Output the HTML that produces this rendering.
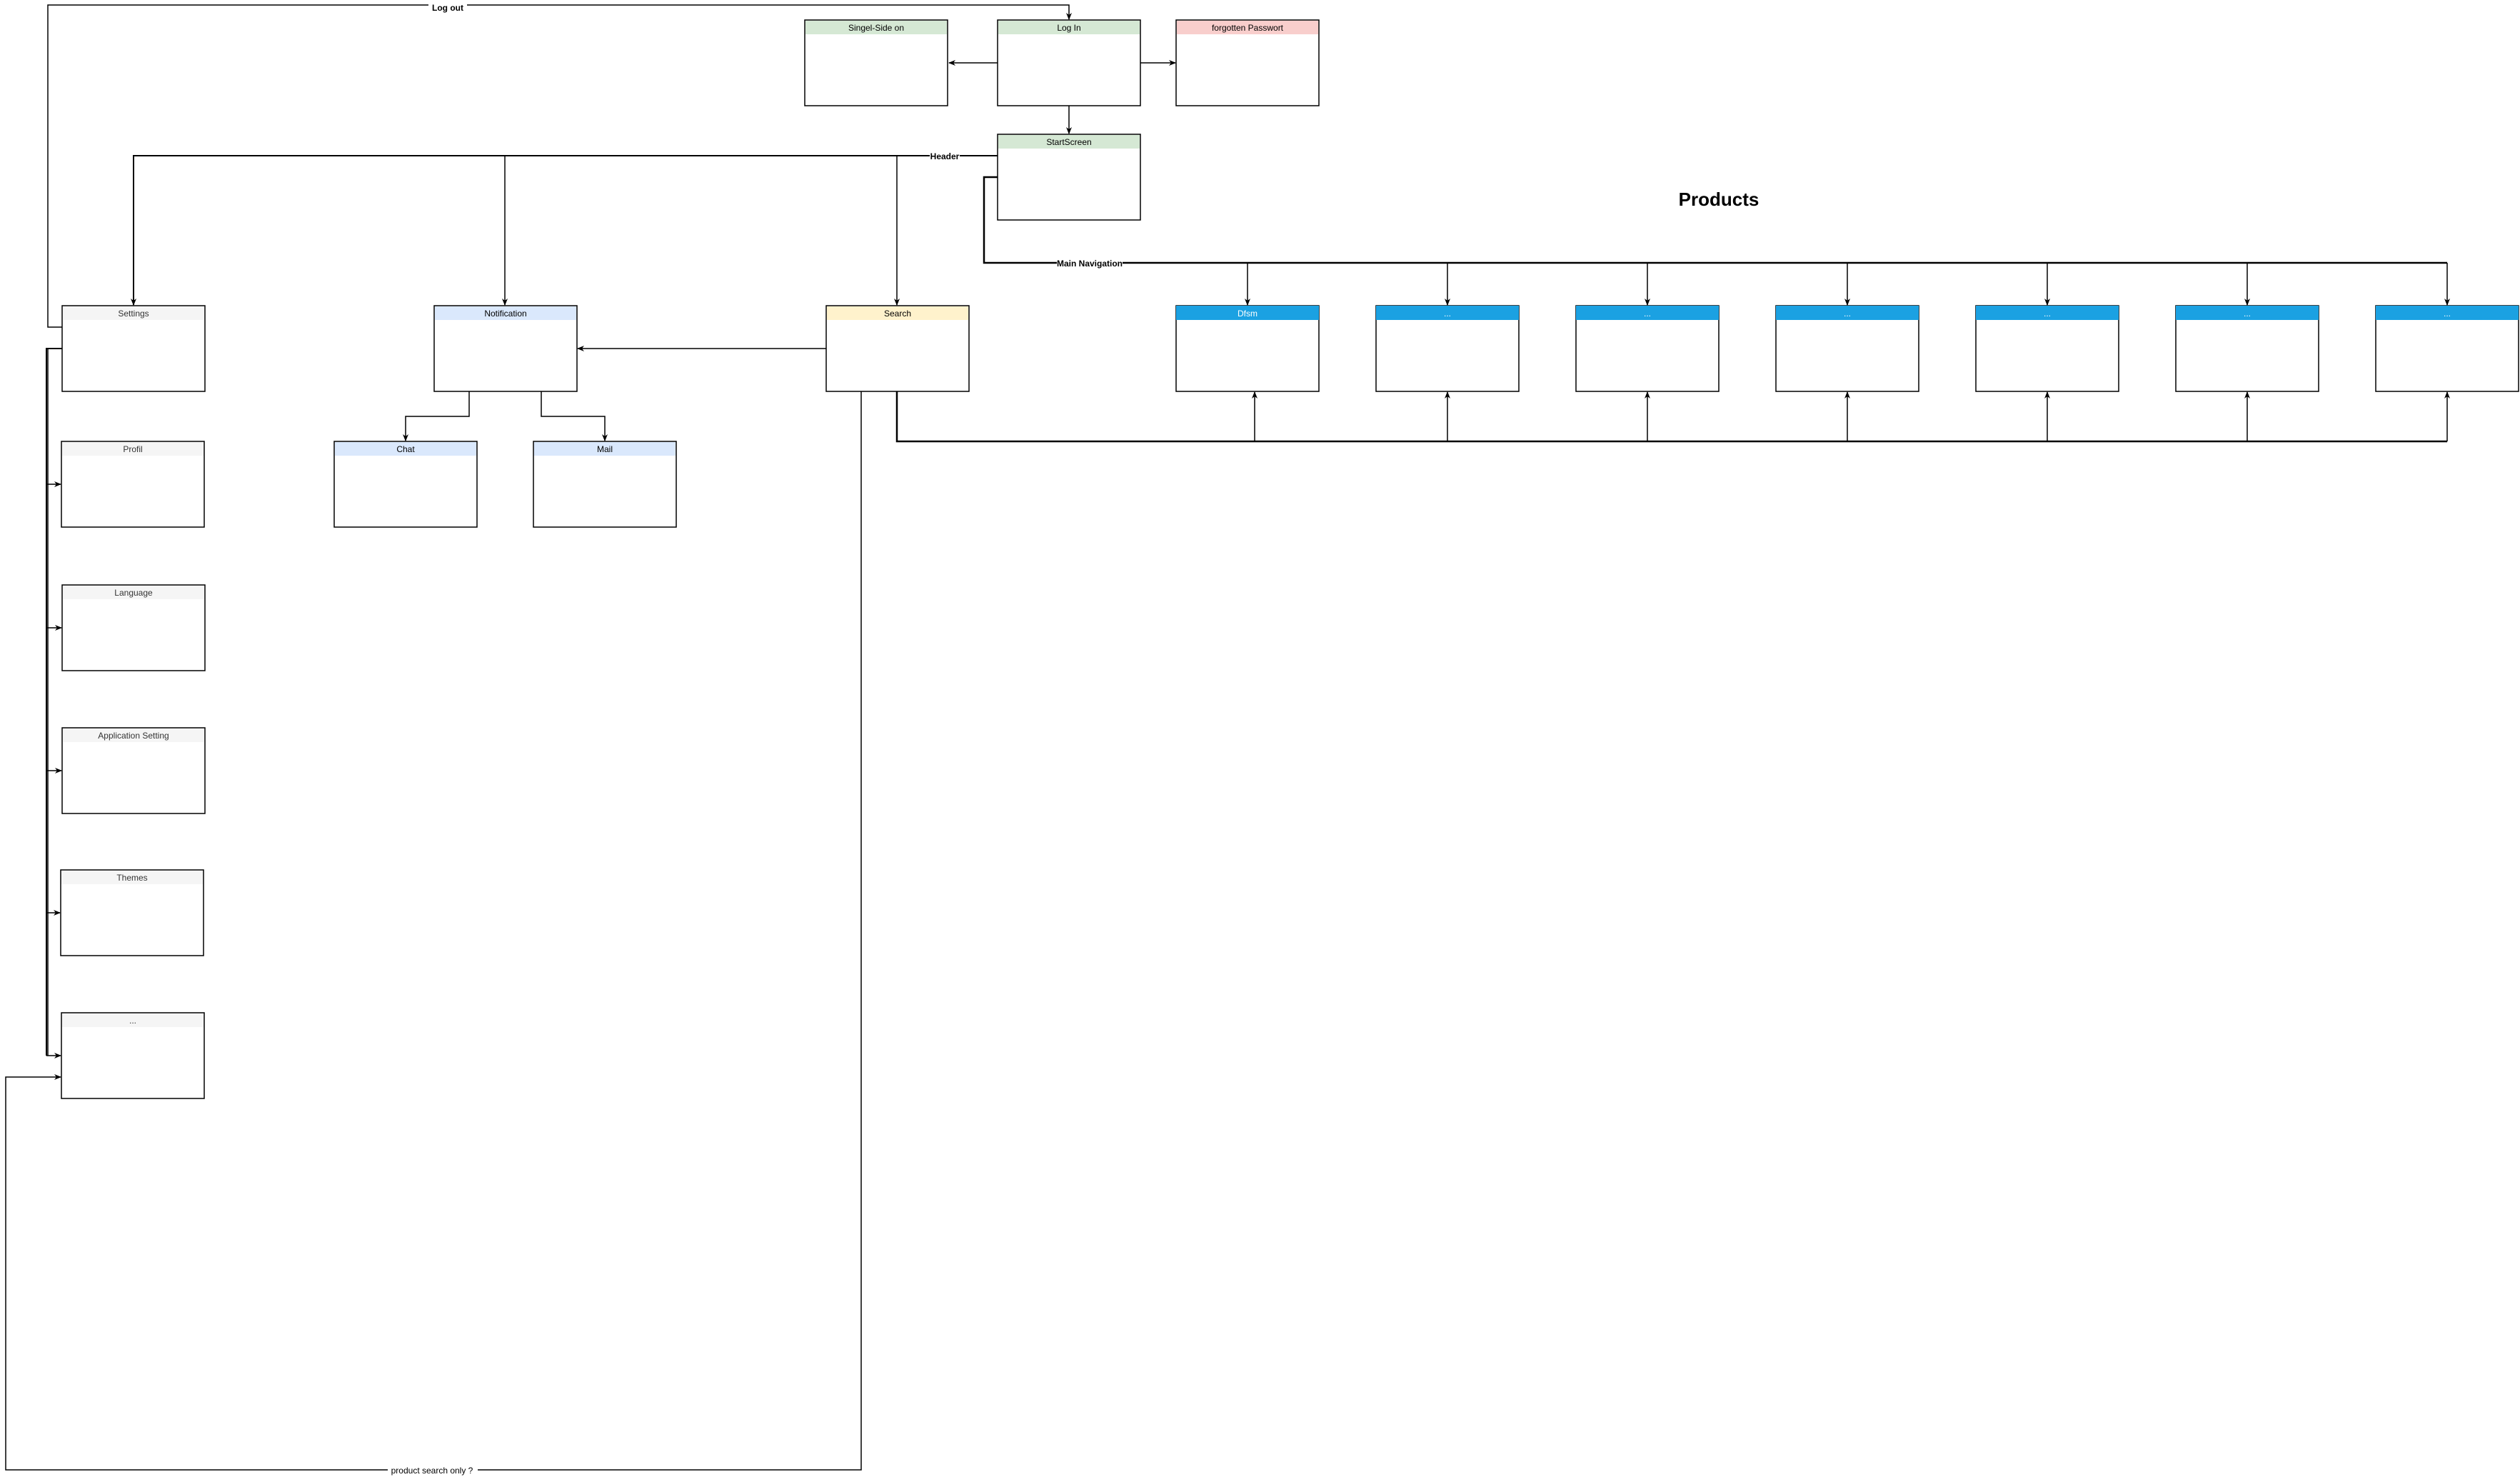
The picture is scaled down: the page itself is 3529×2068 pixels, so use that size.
<!DOCTYPE html>
<html><head><meta charset="utf-8"><style>
html,body{margin:0;padding:0;background:#fff;}
svg{display:block;}
text{font-family:"Liberation Sans",sans-serif;}
</style></head><body>
<svg width="3529" height="2068" viewBox="0 0 3529 2068" xmlns="http://www.w3.org/2000/svg">
<defs>
<marker id="a" markerWidth="10" markerHeight="10" refX="9" refY="5" orient="auto" markerUnits="userSpaceOnUse">
<path d="M0,1 L10,5 L0,9 L3,5 Z" fill="#000"/></marker>
</defs>
<g fill="none" stroke="#000" stroke-width="1.5">
<!-- Log out -->
<polyline points="87,458 67,458 67,7 1497,7 1497,27" marker-end="url(#a)"/>
<!-- Login arrows -->
<line x1="1397" y1="88" x2="1329" y2="88" marker-end="url(#a)"/>
<line x1="1597" y1="88" x2="1646" y2="88" marker-end="url(#a)"/>
<line x1="1497" y1="148" x2="1497" y2="187" marker-end="url(#a)"/>
<!-- Header -->
<polyline points="1397,218 187,218 187,427" stroke-width="2" marker-end="url(#a)"/>
<line x1="707" y1="218" x2="707" y2="427" marker-end="url(#a)"/>
<line x1="1256" y1="218" x2="1256" y2="427" marker-end="url(#a)"/>
<!-- Main nav -->
<polyline points="1397,248 1378,248 1378,368 3427,368" stroke-width="2.5"/>
<line x1="1747" y1="368" x2="1747" y2="427" marker-end="url(#a)"/>
<line x1="2027" y1="368" x2="2027" y2="427" marker-end="url(#a)"/>
<line x1="2307" y1="368" x2="2307" y2="427" marker-end="url(#a)"/>
<line x1="2587" y1="368" x2="2587" y2="427" marker-end="url(#a)"/>
<line x1="2867" y1="368" x2="2867" y2="427" marker-end="url(#a)"/>
<line x1="3147" y1="368" x2="3147" y2="427" marker-end="url(#a)"/>
<line x1="3427" y1="368" x2="3427" y2="427" marker-end="url(#a)"/>
<!-- Search bottom -->
<polyline points="1256,548 1256,618 3427,618" stroke-width="2.5"/>
<line x1="1757" y1="618" x2="1757" y2="549" marker-end="url(#a)"/>
<line x1="2027" y1="618" x2="2027" y2="549" marker-end="url(#a)"/>
<line x1="2307" y1="618" x2="2307" y2="549" marker-end="url(#a)"/>
<line x1="2587" y1="618" x2="2587" y2="549" marker-end="url(#a)"/>
<line x1="2867" y1="618" x2="2867" y2="549" marker-end="url(#a)"/>
<line x1="3147" y1="618" x2="3147" y2="549" marker-end="url(#a)"/>
<line x1="3427" y1="618" x2="3427" y2="549" marker-end="url(#a)"/>
<!-- Search -> Notification -->
<line x1="1157" y1="488" x2="809" y2="488" marker-end="url(#a)"/>
<!-- Notification -> chat/mail -->
<polyline points="657,548 657,583 568,583 568,617" marker-end="url(#a)"/>
<polyline points="758,548 758,583 847,583 847,617" marker-end="url(#a)"/>
<!-- Settings children -->
<polyline points="87,488 65,488 65,1478" stroke-width="2"/>
<line x1="67" y1="488" x2="67" y2="1478"/>
<line x1="65" y1="678" x2="85" y2="678" marker-end="url(#a)"/>
<line x1="65" y1="879" x2="86" y2="879" marker-end="url(#a)"/>
<line x1="65" y1="1079" x2="86" y2="1079" marker-end="url(#a)"/>
<line x1="65" y1="1278" x2="84" y2="1278" marker-end="url(#a)"/>
<line x1="65" y1="1478" x2="85" y2="1478" marker-end="url(#a)"/>
<!-- product search only -->
<polyline points="1206,548 1206,2058 8,2058 8,1508 85,1508" marker-end="url(#a)"/>
</g>
<!-- label backgrounds -->
<rect x="600" y="0" width="54" height="14" fill="#fff"/>
<text x="627" y="15" font-size="12" font-weight="bold" text-anchor="middle">Log out</text>
<rect x="1302" y="211" width="42" height="14" fill="#fff"/>
<text x="1323" y="223" font-size="12" font-weight="bold" text-anchor="middle">Header</text>
<rect x="1480" y="361" width="92" height="14" fill="#fff"/>
<text x="1526" y="373" font-size="12" font-weight="bold" text-anchor="middle">Main Navigation</text>
<rect x="543" y="2051" width="126" height="14" fill="#fff"/>
<text x="605" y="2063" font-size="12" text-anchor="middle">product search only  ?</text>
<text x="2407" y="288" font-size="26" font-weight="bold" text-anchor="middle">Products</text>
<g font-size="12" text-anchor="middle">
<!-- boxes: x,y,fill,label -->
<g stroke="#000" stroke-width="1.5">
<rect x="1127" y="28" width="200" height="120" fill="#fff"/>
<rect x="1397" y="28" width="200" height="120" fill="#fff"/>
<rect x="1647" y="28" width="200" height="120" fill="#fff"/>
<rect x="1397" y="188" width="200" height="120" fill="#fff"/>
<rect x="87" y="428" width="200" height="120" fill="#fff"/>
<rect x="608" y="428" width="200" height="120" fill="#fff"/>
<rect x="1157" y="428" width="200" height="120" fill="#fff"/>
<rect x="468" y="618" width="200" height="120" fill="#fff"/>
<rect x="747" y="618" width="200" height="120" fill="#fff"/>
<rect x="86" y="618" width="200" height="120" fill="#fff"/>
<rect x="87" y="819" width="200" height="120" fill="#fff"/>
<rect x="87" y="1019" width="200" height="120" fill="#fff"/>
<rect x="85" y="1218" width="200" height="120" fill="#fff"/>
<rect x="86" y="1418" width="200" height="120" fill="#fff"/>
<rect x="1647" y="428" width="200" height="120" fill="#fff"/>
<rect x="1927" y="428" width="200" height="120" fill="#fff"/>
<rect x="2207" y="428" width="200" height="120" fill="#fff"/>
<rect x="2487" y="428" width="200" height="120" fill="#fff"/>
<rect x="2767" y="428" width="200" height="120" fill="#fff"/>
<rect x="3047" y="428" width="200" height="120" fill="#fff"/>
<rect x="3327" y="428" width="200" height="120" fill="#fff"/>
</g>
<g>
<rect x="1128" y="29" width="198" height="19" fill="#d5e8d4"/><text x="1227" y="43">Singel-Side on</text>
<rect x="1398" y="29" width="198" height="19" fill="#d5e8d4"/><text x="1497" y="43">Log In</text>
<rect x="1648" y="29" width="198" height="19" fill="#f8cecc"/><text x="1747" y="43">forgotten Passwort</text>
<rect x="1398" y="189" width="198" height="19" fill="#d5e8d4"/><text x="1497" y="203">StartScreen</text>
<rect x="88" y="429" width="198" height="19" fill="#f5f5f5"/><text x="187" y="443" fill="#333">Settings</text>
<rect x="609" y="429" width="198" height="19" fill="#dae8fc"/><text x="708" y="443">Notification</text>
<rect x="1158" y="429" width="198" height="19" fill="#fff2cc"/><text x="1257" y="443">Search</text>
<rect x="469" y="619" width="198" height="19" fill="#dae8fc"/><text x="568" y="633">Chat</text>
<rect x="748" y="619" width="198" height="19" fill="#dae8fc"/><text x="847" y="633">Mail</text>
<rect x="87" y="619" width="198" height="19" fill="#f5f5f5"/><text x="186" y="633" fill="#333">Profil</text>
<rect x="88" y="820" width="198" height="19" fill="#f5f5f5"/><text x="187" y="834" fill="#333">Language</text>
<rect x="88" y="1020" width="198" height="19" fill="#f5f5f5"/><text x="187" y="1034" fill="#333">Application Setting</text>
<rect x="86" y="1219" width="198" height="19" fill="#f5f5f5"/><text x="185" y="1233" fill="#333">Themes</text>
<rect x="87" y="1419" width="198" height="19" fill="#f5f5f5"/><text x="186" y="1433" fill="#333">...</text>
</g>
<g fill="#1ba1e2">
<rect x="1647" y="428" width="200" height="20"/>
<rect x="1927" y="428" width="200" height="20"/>
<rect x="2207" y="428" width="200" height="20"/>
<rect x="2487" y="428" width="200" height="20"/>
<rect x="2767" y="428" width="200" height="20"/>
<rect x="3047" y="428" width="200" height="20"/>
<rect x="3327" y="428" width="200" height="20"/>
</g>
<g fill="#fff">
<text x="1747" y="443">Dfsm</text>
<text x="2027" y="443">...</text>
<text x="2307" y="443">...</text>
<text x="2587" y="443">...</text>
<text x="2867" y="443">...</text>
<text x="3147" y="443">...</text>
<text x="3427" y="443">...</text>
</g>
</g>
</svg>
</body></html>
